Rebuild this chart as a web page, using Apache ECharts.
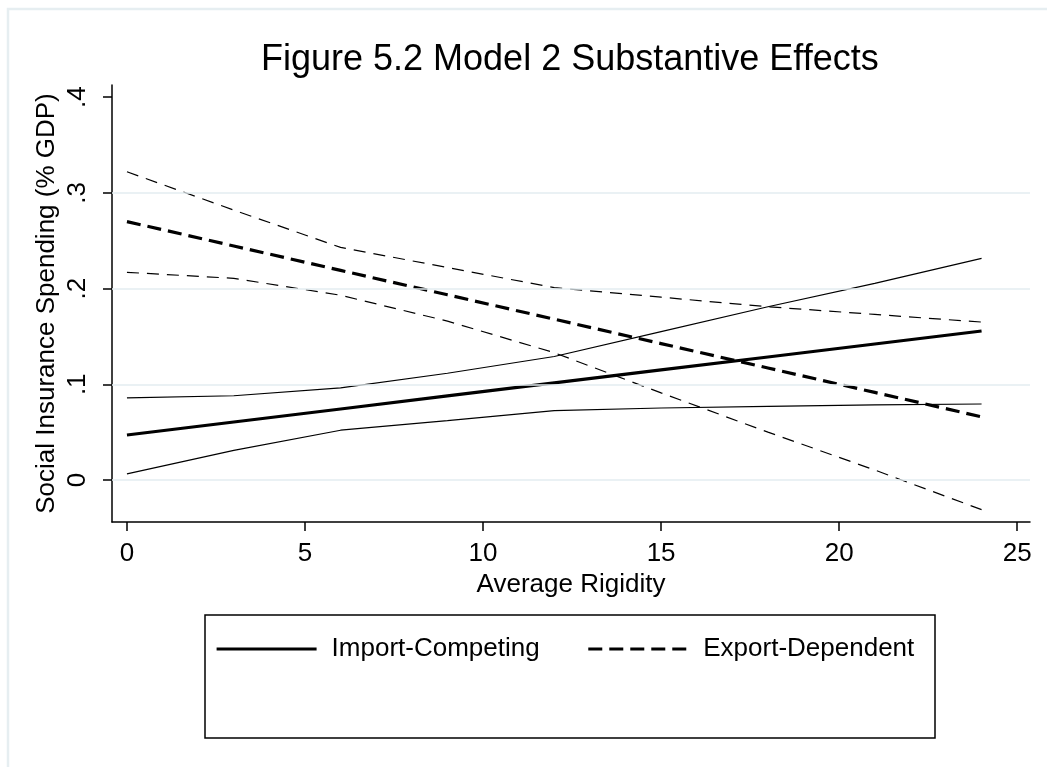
<!DOCTYPE html>
<html>
<head>
<meta charset="utf-8">
<title>Figure 5.2 Model 2 Substantive Effects</title>
<script src="https://cdn.jsdelivr.net/npm/echarts@6/dist/echarts.min.js"></script>
<style>
  html, body { margin: 0; padding: 0; background: #fff; }
  #chart { width: 1047px; height: 767px; }
</style>
</head>
<body>
<div id="chart"></div>
<script>
// Predicted social insurance spending by average rigidity, with confidence bands
const rigidity = [0, 3, 6, 9, 12, 15, 18, 21, 24];

const importMean  = [0.047, 0.0606, 0.0742, 0.0878, 0.1014, 0.1150, 0.1285, 0.1421, 0.1557];
const importUpper = [0.0857, 0.088, 0.0962, 0.1115, 0.129, 0.155, 0.181, 0.2055, 0.2316];
const importLower = [0.0063, 0.031, 0.052, 0.062, 0.0725, 0.0752, 0.077, 0.0785, 0.0794];

const exportMean  = [0.270, 0.2445, 0.219, 0.1935, 0.168, 0.1425, 0.117, 0.0915, 0.066];
const exportUpper = [0.322, 0.282, 0.243, 0.222, 0.201, 0.191, 0.181, 0.173, 0.165];
const exportLower = [0.217, 0.2107, 0.193, 0.166, 0.133, 0.091, 0.050, 0.0104, -0.031];

const xTicks = [0, 5, 10, 15, 20, 25];
const yTicks = [0, 0.1, 0.2, 0.3, 0.4];
const yGridValues = [0, 0.1, 0.2, 0.3];

const seriesNames = ['Import-Competing', 'Export-Dependent'];

const FONT = '"Liberation Sans", Arial, sans-serif';
const pairs = arr => rigidity.map((x, i) => [x, arr[i]]);

function lineSeries(name, values, width, dashed) {
  return {
    name: name,
    type: 'line',
    data: pairs(values),
    symbol: 'none',
    silent: true,
    z: 3,
    itemStyle: { color: '#000' },
    lineStyle: {
      color: '#000',
      width: width,
      type: dashed ? (width > 2 ? [14, 7] : [12, 8]) : 'solid'
    }
  };
}

const chart = echarts.init(document.getElementById('chart'), null, { renderer: 'canvas' });

const option = {
  animation: false,
  backgroundColor: '#fff',
  title: {
    text: 'Figure 5.2 Model 2 Substantive Effects',
    left: 256,
    top: 37,
    textStyle: { fontFamily: FONT, fontSize: 36, fontWeight: 'normal', color: '#000' }
  },
  grid: { left: 112, top: 85, right: 17, bottom: 245 },
  legend: {
    data: seriesNames,
    left: 215,
    top: 636,
    padding: 0,
    itemWidth: 100,
    itemHeight: 14,
    itemGap: 47,
    itemStyle: { opacity: 0 },
    lineStyle: { width: 3.2 },
    textStyle: { fontFamily: FONT, fontSize: 26, color: '#000', padding: [0, 0, 0, 10] }
  },
  xAxis: {
    type: 'value',
    min: -0.42,
    max: 25.36,
    name: 'Average Rigidity',
    nameLocation: 'middle',
    nameGap: 50,
    nameTextStyle: { fontFamily: FONT, fontSize: 26, color: '#000' },
    axisLine: { show: true, onZero: false, lineStyle: { color: '#000', width: 1.5 } },
    axisTick: { show: true, length: 9, customValues: xTicks, lineStyle: { color: '#000', width: 1.5 } },
    axisLabel: { customValues: xTicks, fontFamily: FONT, fontSize: 26, color: '#000', margin: 19 },
    splitLine: { show: false }
  },
  yAxis: {
    type: 'value',
    min: -0.0439,
    max: 0.4127,
    name: 'Social Insurance Spending (% GDP)',
    nameLocation: 'middle',
    nameRotate: 90,
    nameGap: 52,
    nameMoveOverlap: false,
    nameTextStyle: { fontFamily: FONT, fontSize: 26, color: '#000' },
    axisLine: { show: true, onZero: false, lineStyle: { color: '#000', width: 1.5 } },
    axisTick: { show: true, length: 9, customValues: yTicks, lineStyle: { color: '#000', width: 1.5 } },
    axisLabel: {
      customValues: yTicks,
      rotate: 90,
      fontFamily: FONT,
      fontSize: 26,
      color: '#000',
      margin: 21,
      formatter: v => (v === 0 ? '0' : String(+v.toFixed(2)).replace(/^0\./, '.'))
    },
    splitLine: { show: false }
  },
  graphic: [
    {
      type: 'rect',
      silent: true,
      shape: { x: 8, y: 9, width: 1200, height: 900 },
      style: { fill: null, stroke: '#e6eef1', lineWidth: 2.5 }
    },
    {
      type: 'rect',
      silent: true,
      shape: { x: 205, y: 615, width: 730, height: 123 },
      style: { fill: null, stroke: '#000', lineWidth: 1.5 }
    }
  ],
  series: [
    {
      name: 'grid',
      type: 'line',
      data: [],
      silent: true,
      z: 1,
      markLine: {
        silent: true,
        symbol: 'none',
        label: { show: false },
        lineStyle: { color: '#e3edf0', width: 1.5, type: 'solid' },
        data: yGridValues.map(v => ({ yAxis: v }))
      }
    },
    lineSeries('Import-Competing upper', importUpper, 1.2, false),
    lineSeries('Import-Competing lower', importLower, 1.2, false),
    lineSeries('Export-Dependent upper', exportUpper, 1.2, true),
    lineSeries('Export-Dependent lower', exportLower, 1.2, true),
    lineSeries(seriesNames[0], importMean, 3.2, false),
    lineSeries(seriesNames[1], exportMean, 3.2, true)
  ]
};

chart.setOption(option);
</script>
</body>
</html>
